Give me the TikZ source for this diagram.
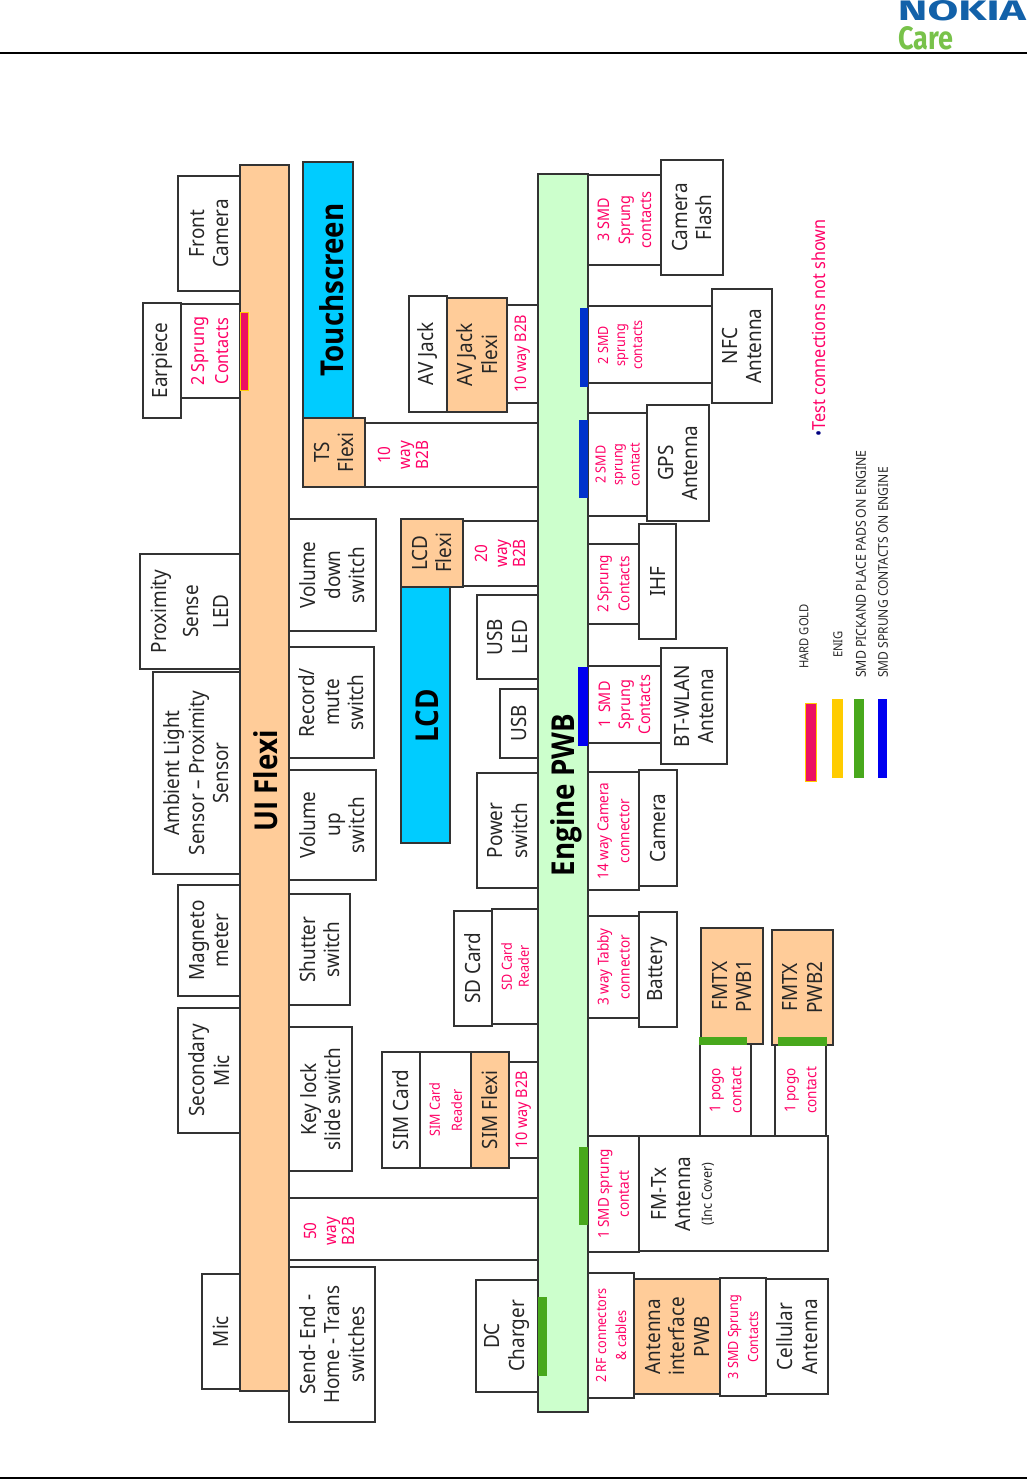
\documentclass[tikz,border=0pt]{standalone}
\usepackage{fontspec}
\setmainfont{Noto Sans}[FakeStretch=0.9]
\newfontfamily\logofont{Fira Sans}
\newfontfamily\bigfont{Open Sans}[FakeStretch=0.88]
\definecolor{flexi}{HTML}{FFCC99}
\definecolor{engine}{HTML}{CCFFCC}
\definecolor{screen}{HTML}{00CCFF}
\definecolor{pinklbl}{HTML}{FF0066}
\definecolor{edge}{HTML}{333333}
\definecolor{goldpad}{HTML}{EC1162}
\definecolor{goldrim}{HTML}{FFCC00}
\definecolor{greenpad}{HTML}{48A81C}
\definecolor{bluepad}{HTML}{0000F0}
\definecolor{bluepadb}{HTML}{0033CC}
\definecolor{nokiablue}{HTML}{1261A9}
\definecolor{carelime}{HTML}{78C24A}
\tikzset{
  blk/.style={draw=edge,line width=1.2pt,fill=white},
  flx/.style={blk,fill=flexi},
  scr/.style={blk,fill=screen},
  pad/.style={fill=#1,draw=none},
  txt/.style={midway,rotate=90,align=center,inner sep=0pt,text=black!85,
    font=\fontsize{21}{24.5}\selectfont},
  pnkfree/.style={rotate=90,align=center,inner sep=0pt,text=pinklbl,
    font=\fontsize{16}{#1}\selectfont},
  pnkfree/.default=22,
  pnk/.style={midway,pnkfree=#1},
  pnk/.default=22,
  big/.style={rotate=90,inner sep=0pt,font=\bigfont\fontsize{31.5}{34}\selectfont\bfseries},
  lgd/.style={rotate=90,inner sep=0pt,anchor=west,text=black!85,font=\fontsize{12.5}{14}\selectfont}
}
\begin{document}
\begin{tikzpicture}[x=1pt,y=-1pt]
  \useasboundingbox (0,0) rectangle (1027,1479);
  % header and footer
  \draw[line width=2pt] (0,53) -- (1027,53);
  \draw[line width=1.5pt] (0,1478) -- (1027,1478);
  \node[inner sep=0pt,text=nokiablue] (nokia) at (962,10.5)
    {\resizebox{128pt}{20pt}{\logofont\bfseries NOKIA}};
  \node[inner sep=0pt,text=carelime] (care) at (925.5,38.5)
    {\resizebox{55pt}{23pt}{\logofont\bfseries Care}};

  % links between the two boards
  \draw[blk] (289,1198) rectangle (538,1260);
  \node[pnkfree=20,font=\fontsize{17}{20}\selectfont] (link50) at (329,1231) {50\\way\\[-2pt]B2B};
  \draw[blk] (365,423) rectangle (538,487);
  \node[pnkfree=20,font=\fontsize{17}{20}\selectfont] (link10) at (403,455) {10\\way\\[-2pt]B2B};

  % above UI flexi
  \draw[blk] (178,176) rectangle (240,291) node[txt] (frontcam) {Front\\Camera};
  \draw[blk] (181,304) rectangle (240,398) node[pnk=24,font=\fontsize{18}{24}\selectfont] (earcon) {2 Sprung\\Contacts};
  \draw[blk] (143,303) rectangle (181,418) node[txt] (earpiece) {Earpiece};
  \draw[blk] (140,554) rectangle (240,669) node[txt] (proxled) {Proximity\\[7pt]Sense\\[6pt]LED};
  \draw[blk] (153,672) rectangle (240,874) node[txt] (ambient) {Ambient Light\\Sensor -- Proximity\\Sensor};
  \draw[blk] (178,885) rectangle (240,996) node[txt] (magneto) {Magneto\\meter};
  \draw[blk] (178,1008) rectangle (240,1133) node[txt] (secmic) {Secondary\\Mic};
  \draw[blk] (202,1274) rectangle (240,1389) node[txt] (mic) {Mic};

  % below UI flexi
  \draw[blk] (289,519) rectangle (376,631) node[txt] (voldown) {Volume\\down\\switch};
  \draw[blk] (289,647) rectangle (374,758) node[txt] (record) {Record/\\mute\\switch};
  \draw[blk] (289,770) rectangle (376,880) node[txt] (volup) {Volume\\up\\switch};
  \draw[blk] (289,894) rectangle (350,1005) node[txt] (shutter) {Shutter\\switch};
  \draw[blk] (289,1027) rectangle (352,1171) node[txt] (keylock) {Key lock\\slide switch};
  \draw[blk] (289,1267) rectangle (375,1422) node[txt] (sendend) {Send- End -\\Home -  Trans\\switches};

  \draw[flx] (240,165) rectangle (289,1391);
  \node[big] (uiflexi) at (266,781) {UI Flexi};
  \draw[pad=goldpad,draw=goldrim,line width=1pt] (240,312) rectangle (248,390);

  % display parts
  \draw[scr] (303,162) rectangle (353,418);
  \node[big] (touch) at (332,290) {Touchscreen};
  \draw[flx] (303,418) rectangle (365,487) node[txt] (tsflexi) {TS\\Flexi};
  \draw[scr] (401,587) rectangle (450,843);
  \node[big] (lcd) at (427,716) {LCD};
  \draw[blk] (463,521) rectangle (538,586) node[pnk=20,font=\fontsize{17}{20}\selectfont] (link20) {20\\way\\[-2pt]B2B};
  \draw[flx] (401,519) rectangle (463,587) node[txt] (lcdflexi) {LCD\\Flexi};

  % above engine board
  \draw[blk] (409,296) rectangle (447,412) node[txt] (avjack) {AV Jack};
  \draw[blk] (507,305) rectangle (538,403) node[pnk] (avlink) {10 way B2B};
  \draw[flx] (447,298) rectangle (507,412) node[txt] (avflexi) {AV Jack\\Flexi};
  \draw[blk] (477,595) rectangle (538,679) node[txt] (usbled) {USB\\LED};
  \draw[blk] (500,689) rectangle (538,758) node[txt] (usb) {USB};
  \draw[blk] (477,773) rectangle (538,888) node[txt] (power) {Power\\switch};
  \draw[blk] (454,911) rectangle (492,1026) node[txt] (sdcard) {SD Card};
  \draw[blk] (492,909) rectangle (538,1024) node[pnk=17,font=\fontsize{14}{17}\selectfont] (sdread) {SD Card\\Reader};
  \draw[blk] (382,1052) rectangle (420,1168) node[txt] (simcard) {SIM Card};
  \draw[blk] (420,1052) rectangle (471,1168) node[pnk=22,font=\fontsize{14}{22}\selectfont] (simread) {SIM Card\\Reader};
  \draw[blk] (509,1062) rectangle (538,1158) node[pnk] (simlink) {10 way B2B};
  \draw[flx] (471,1052) rectangle (509,1168) node[txt] (simflexi) {SIM Flexi};
  \draw[blk] (476,1280) rectangle (538,1392) node[txt] (dcchg) {DC\\Charger};

  % below engine board
  \draw[blk] (588,175) rectangle (661,265) node[pnk=21] (flashcon) {3 SMD\\Sprung\\contacts};
  \draw[blk] (661,160) rectangle (723,275) node[txt] (flash) {Camera\\Flash};
  \draw[blk] (588,306) rectangle (712,383);
  \node[pnkfree=17,font=\fontsize{14}{17}\selectfont] (nfccon) at (620,345) {2 SMD\\sprung\\contacts};
  \draw[blk] (712,289) rectangle (772,403) node[txt] (nfc) {NFC\\Antenna};
  \draw[blk] (588,413) rectangle (647,516) node[pnk=17,font=\fontsize{14}{17}\selectfont] (gpscon) {2 SMD\\sprung\\contact};
  \draw[blk] (647,405) rectangle (709,521) node[txt] (gps) {GPS\\Antenna};
  \draw[blk] (588,544) rectangle (639,624) node[pnk=21,font=\fontsize{15}{21}\selectfont] (ihfcon) {2 Sprung\\Contacts};
  \draw[blk] (639,524) rectangle (676,639) node[txt] (ihf) {IHF};
  \draw[blk] (588,666) rectangle (661,743) node[pnk=20] (btcon) {1\, SMD\\Sprung\\Contacts};
  \draw[blk] (661,648) rectangle (727,764) node[txt] (bt) {BT-WLAN\\Antenna};
  \draw[blk] (588,772) rectangle (639,890) node[pnk=21,font=\fontsize{15}{21}\selectfont] (camcon) {14 way Camera\\connector};
  \draw[blk] (639,770) rectangle (677,886) node[txt] (camera) {Camera};
  \draw[blk] (588,916) rectangle (639,1018) node[pnk=21,font=\fontsize{15}{21}\selectfont] (batcon) {3 way Tabby\\connector};
  \draw[blk] (639,912) rectangle (677,1027) node[txt] (battery) {Battery};
  \draw[blk] (588,1136) rectangle (639,1252) node[pnk=20,font=\fontsize{15}{20}\selectfont] (fmcon) {1 SMD sprung\\contact};
  \draw[blk] (700,1044) rectangle (751,1136) node[pnk=21,font=\fontsize{15}{21}\selectfont] (pogoa) {1 pogo\\contact};
  \draw[blk] (775,1045) rectangle (826,1136) node[pnk=21,font=\fontsize{15}{21}\selectfont] (pogob) {1 pogo\\contact};
  \draw[flx] (701,928) rectangle (763,1044) node[txt] (fmtxa) {FMTX\\PWB1};
  \draw[flx] (772,930) rectangle (833,1045) node[txt] (fmtxb) {FMTX\\PWB2};
  \draw[blk] (639,1136) rectangle (828,1251);
  \node[rotate=90,align=center,inner sep=0pt,text=black!85,font=\fontsize{21}{24.5}\selectfont]
    (fmant) at (671,1194) {FM-Tx\\Antenna};
  \node[rotate=90,inner sep=0pt,text=black!85,font=\fontsize{14}{16}\selectfont]
    (fmcover) at (708,1194) {(Inc Cover)};
  \draw[blk] (588,1273) rectangle (634,1398) node[pnk=20,font=\fontsize{14}{20}\selectfont] (rfcon) {2 RF connectors\\\& cables};
  \draw[flx] (634,1279) rectangle (720,1394) node[txt] (antif) {Antenna\\interface\\PWB};
  \draw[blk] (720,1278) rectangle (766,1396) node[pnk=20,font=\fontsize{14}{20}\selectfont] (cellcon) {3 SMD Sprung\\Contacts};
  \draw[blk] (766,1279) rectangle (828,1394) node[txt] (cell) {Cellular\\Antenna};

  \draw[blk,fill=engine] (538,174) rectangle (588,1412);
  \node[big] (enginepwb) at (566,795) {Engine PWB};

  % contact pads
  \fill[pad=bluepadb] (580,308) rectangle (588,387);
  \fill[pad=bluepadb] (579,420) rectangle (588,498);
  \fill[pad=bluepad] (578,667) rectangle (588,746);
  \fill[pad=greenpad] (579,1147) rectangle (588,1225);
  \fill[pad=greenpad] (538,1297) rectangle (547,1376);
  \fill[pad=greenpad] (699,1037) rectangle (747,1045);
  \fill[pad=greenpad] (778,1037) rectangle (827,1046);

  % legend
  \node[rotate=90,inner sep=0pt,text=pinklbl,font=\fontsize{18}{20}\selectfont] (testnote) at (819,328)
    {\textcolor{blue!50!black}{\textbullet}Test connections not shown};
  \draw[pad=goldpad,draw=goldrim,line width=1pt] (805.5,703) rectangle (816,781);
  \fill[pad=goldrim] (832,699) rectangle (843,778);
  \fill[pad=greenpad] (854,699) rectangle (864,778);
  \fill[pad=bluepad] (878,699) rectangle (887,778);
  \node[lgd] (hardgold) at (804,669) {HARD GOLD};
  \node[lgd] (enig) at (838,658) {ENIG};
  \node[lgd,font=\fontsize{13.7}{14}\selectfont] (smdpads) at (861,678) {SMD PICKAND PLACE PADS ON ENGINE};
  \node[lgd,font=\fontsize{13.4}{14}\selectfont] (smdcont) at (883,678) {SMD SPRUNG CONTACTS ON ENGINE};
\end{tikzpicture}
\end{document}
